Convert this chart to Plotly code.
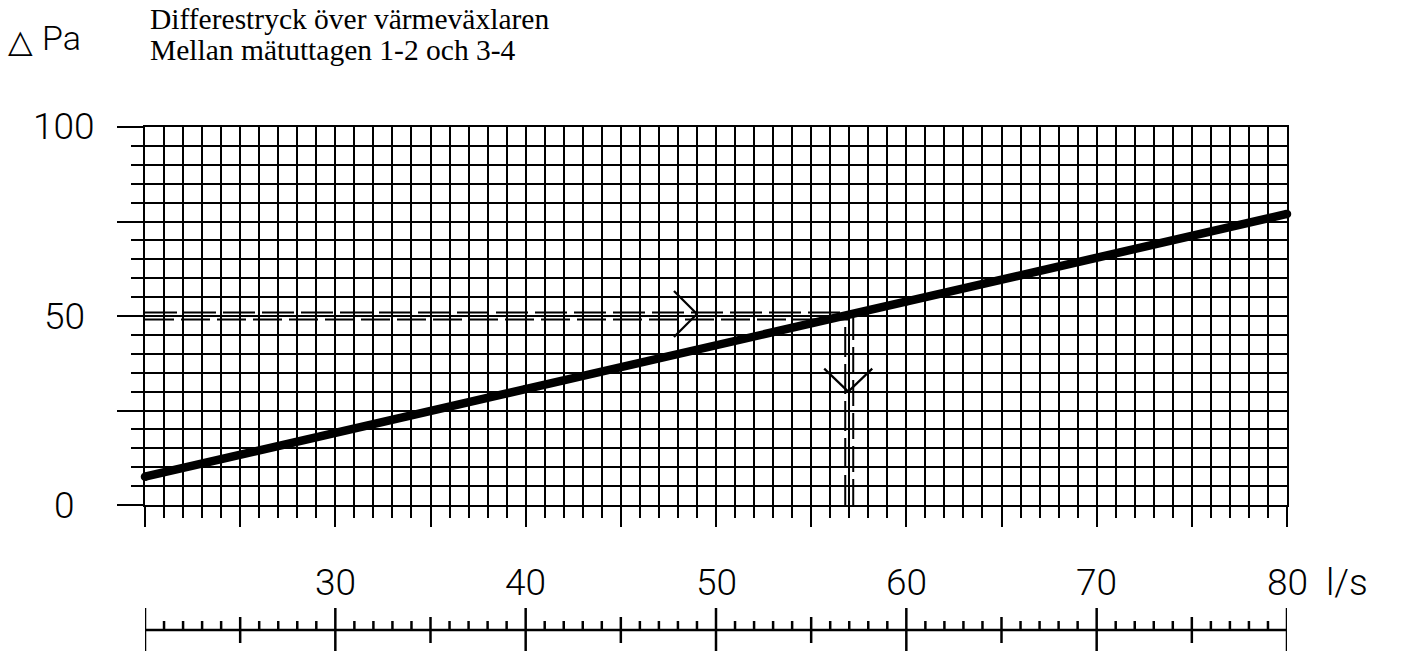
import plotly.graph_objects as go

# ---- data ----
flow = [20, 40, 60, 80]            # l/s
dp = [7.5, 30.7, 53.9, 77.0]       # Pa
x_label_vals = [30, 40, 50, 60, 70, 80]
y_label_vals = [0, 50, 100]
op_flow = 57      # reading example: flow at 50 Pa
op_dp = 50
arrow_h_x = 49    # chevron on the horizontal reading line
arrow_v_y = 30    # chevron on the vertical reading line
title_lines = ["Differestryck över värmeväxlaren", "Mellan mätuttagen 1-2 och 3-4"]
unit_x = "l/s"
unit_y = "Pa"

W, H = 1404, 651
L, R = 145, 1287          # plot area pixels (x)
TOP, BOT = 127, 505       # plot area pixels (y)

def px(yp):
    return 1 - yp / H

CAD = "Roboto, DejaVu Sans Condensed, sans-serif"
SERIF = "Liberation Serif, Times New Roman, serif"
GW = 2.3

fig = go.Figure()

# main curve
fig.add_trace(go.Scatter(
    x=flow, y=dp, mode="lines+markers",
    line=dict(color="black", width=8.5),
    marker=dict(color="black", size=8.5),
    cliponaxis=False, hoverinfo="skip", showlegend=False,
    xaxis="x", yaxis="y"))

# bottom ruler (secondary axis)
rx, ry = [], []
xmin, xmax = 20, 80
for v in range(xmin, xmax + 1):
    if v % 10 == 0 or v in (xmin, xmax):
        lo, hi = 0, 43
    elif v % 5 == 0:
        lo, hi = 8, 34
    else:
        lo, hi = 21, 30
    rx += [v, v, None]
    ry += [lo, hi, None]
rx += [xmin, xmax, None]
ry += [21, 21, None]
fig.add_trace(go.Scatter(
    x=rx, y=ry, mode="lines", line=dict(color="black", width=2.5),
    hoverinfo="skip", showlegend=False, xaxis="x2", yaxis="y2"))

fig.update_layout(
    width=W, height=H,
    margin=dict(l=0, r=0, t=0, b=0),
    paper_bgcolor="white", plot_bgcolor="white",
    showlegend=False,
    xaxis=dict(
        domain=[L / W, R / W], range=[xmin, xmax], anchor="y",
        tick0=20, dtick=5, ticks="outside", ticklen=20, tickwidth=GW, tickcolor="black",
        showticklabels=False,
        showgrid=True, gridcolor="black", gridwidth=GW,
        minor=dict(tick0=20, dtick=1, ticks="outside", ticklen=11, tickwidth=GW,
                   tickcolor="black", showgrid=True, gridcolor="black", gridwidth=GW),
        showline=True, linecolor="black", linewidth=GW, mirror=True, zeroline=False),
    yaxis=dict(
        domain=[px(BOT), px(TOP)], range=[0, 100], anchor="x",
        tick0=0, dtick=25, ticks="outside", ticklen=26, tickwidth=GW, tickcolor="black",
        showticklabels=False,
        showgrid=True, gridcolor="black", gridwidth=GW,
        minor=dict(tick0=0, dtick=5, ticks="outside", ticklen=12, tickwidth=GW,
                   tickcolor="black", showgrid=True, gridcolor="black", gridwidth=GW),
        showline=True, linecolor="black", linewidth=GW, mirror=True, zeroline=False),
    xaxis2=dict(domain=[L / W, R / W], range=[xmin, xmax], anchor="y2", visible=False),
    yaxis2=dict(domain=[0, 60 / H], range=[0, 60], anchor="x2", visible=False),
)

# reading lines: double dashed lines
for off, dash in ((3.5, "32px,7px"), (-3.5, "29px,7px")):
    fig.add_shape(type="line", xref="x", yref="y", x0=xmin, x1=op_flow,
                  ysizemode="pixel", yanchor=op_dp, y0=off, y1=off,
                  line=dict(color="black", width=2, dash=dash))
for off, dash in ((-4, "30px,7px"), (4, "26px,7px")):
    fig.add_shape(type="line", xref="x", yref="y", y0=0, y1=op_dp,
                  xsizemode="pixel", xanchor=op_flow, x0=off, x1=off,
                  line=dict(color="black", width=2, dash=dash))

# chevrons
for dx, dy in ((-23, 23), (-23, -23)):
    fig.add_shape(type="line", xref="x", yref="y",
                  xsizemode="pixel", ysizemode="pixel",
                  xanchor=arrow_h_x, yanchor=op_dp, x0=0, y0=2, x1=dx, y1=2 + dy,
                  line=dict(color="black", width=2.2))
for dx, dy in ((-24, 23), (24, 23)):
    fig.add_shape(type="line", xref="x", yref="y",
                  xsizemode="pixel", ysizemode="pixel",
                  xanchor=op_flow, yanchor=arrow_v_y, x0=-1, y0=0, x1=-1 + dx, y1=dy,
                  line=dict(color="black", width=2.2))

ann = []
# x labels
for v in x_label_vals:
    ann.append(dict(x=v, xref="x", y=px(582), yref="paper", text=str(v),
                    showarrow=False, xanchor="center", yanchor="middle",
                    font=dict(family=CAD, size=37, color="black", weight=300)))
ann.append(dict(x=xmax, xref="x", xshift=37, y=px(582), yref="paper", text=unit_x,
                showarrow=False, xanchor="left", yanchor="middle",
                font=dict(family=CAD, size=37, color="black", weight=300)))
# y labels
for v in y_label_vals:
    ann.append(dict(x=64 / W, xref="paper", y=v, yref="y", text=str(v),
                    showarrow=False, xanchor="center", yanchor="middle",
                    font=dict(family=CAD, size=37, color="black", weight=300)))
# unit y
ann.append(dict(x=6 / W, xref="paper", y=px(41), yref="paper", text="△",
                showarrow=False, xanchor="left", yanchor="middle",
                font=dict(family="DejaVu Sans", size=32, color="black")))
ann.append(dict(x=40 / W, xref="paper", y=px(38), yref="paper", text=unit_y,
                showarrow=False, xanchor="left", yanchor="middle",
                font=dict(family=CAD, size=34, color="black", weight=300)))
# title
for i, t in enumerate(title_lines):
    ann.append(dict(x=148 / W, xref="paper", y=px(19 + 31 * i), yref="paper", text=t,
                    showarrow=False, xanchor="left", yanchor="middle",
                    font=dict(family=SERIF, size=29.5, color="black")))
fig.update_layout(annotations=ann)

fig.write_html("out.html", config={"displayModeBar": False},
               post_script="document.body.style.margin='0';document.body.style.overflow='hidden';")
